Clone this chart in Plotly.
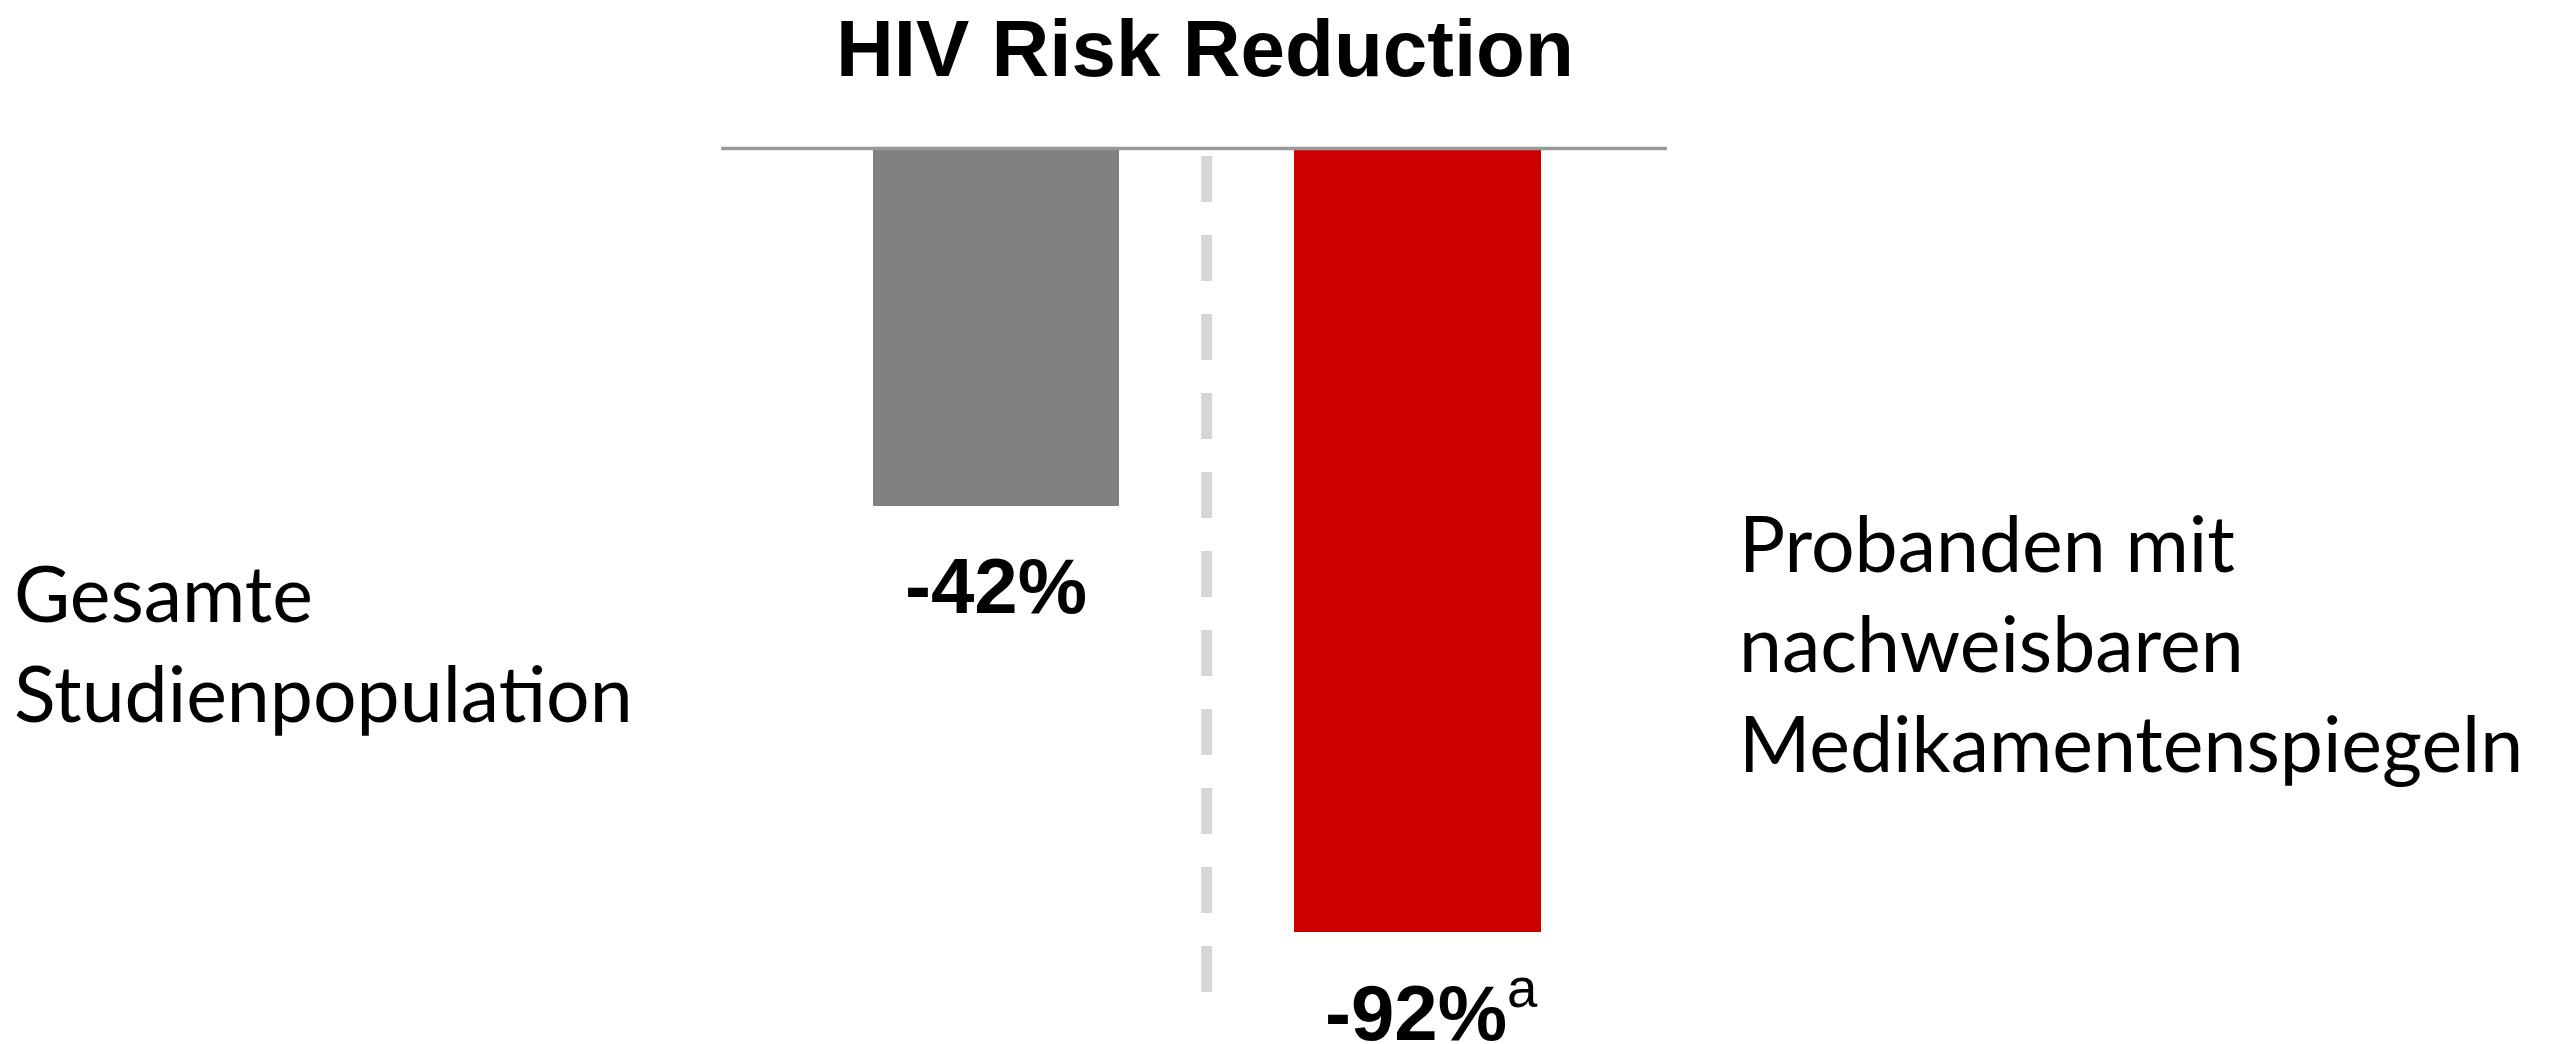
import plotly.graph_objects as go

# Study groups (each label split into its display lines)
group_lines = [
    ["Gesamte", "Studienpopulation"],
    ["Probanden mit", "nachweisbaren", "Medikamentenspiegeln"],
]
categories = [" ".join(lines) for lines in group_lines]

# Relative HIV risk change, in percent
risk_change = [-42, -92]
value_labels = ["-42%", "-92%"]
footnote_marks = ["", "a"]

bar_colors = ["#808080", "#cc0000"]

title_text = "HIV Risk Reduction"

BOLD_FONT = "Liberation Sans, Arial, Helvetica, sans-serif"
BODY_FONT = "Lato, Calibri, Carlito, sans-serif"

fig = go.Figure()

fig.add_trace(
    go.Bar(
        x=categories,
        y=risk_change,
        width=0.585,
        marker=dict(color=bar_colors, line=dict(width=0)),
        hoverinfo="skip",
        showlegend=False,
    )
)

# Value labels below each bar end
for cat, val, lab, mark in zip(categories, risk_change, value_labels, footnote_marks):
    text = lab
    xshift, yshift = 0, -34
    if mark:
        # the superscript raises the text box, so lift it back and keep the
        # main figure centred under the bar
        text += f"<sup><span style='font-weight:normal'>{mark}</span></sup>"
        xshift, yshift = 14, -24
    fig.add_annotation(
        x=cat,
        y=val,
        xref="x",
        yref="y",
        text=text,
        showarrow=False,
        xanchor="center",
        yanchor="top",
        xshift=xshift,
        yshift=yshift,
        font=dict(family=BOLD_FONT, size=78, color="#000000", weight="bold"),
    )

# Group descriptions on the left and right sides
side_x = [0.0045, 0.6765]
for lines, sx in zip(group_lines, side_x):
    fig.add_annotation(
        x=sx,
        y=0.385,
        xref="paper",
        yref="paper",
        text="<br>".join(lines),
        showarrow=False,
        xanchor="left",
        yanchor="middle",
        align="left",
        font=dict(family=BODY_FONT, size=77, color="#000000"),
    )

# Zero baseline
fig.add_shape(
    type="line",
    xref="x",
    yref="y",
    x0=-0.652,
    x1=1.592,
    y0=0,
    y1=0,
    line=dict(color="#999999", width=3.5),
    layer="above",
)

# Dashed divider between the two groups
fig.add_shape(
    type="line",
    xref="x",
    yref="paper",
    x0=0.5,
    x1=0.5,
    y0=1 - 156 / 1044,
    y1=1 - 994 / 1044,
    line=dict(color="#d6d6d6", width=11, dash="46px,33px"),
    layer="below",
)

fig.update_layout(
    width=2568,
    height=1044,
    margin=dict(l=0, r=0, t=0, b=0),
    paper_bgcolor="#ffffff",
    plot_bgcolor="#ffffff",
    title=dict(
        text=title_text,
        x=0.4692,
        xref="paper",
        xanchor="center",
        y=1 - 48 / 1044,
        yref="container",
        yanchor="middle",
        font=dict(family=BOLD_FONT, size=80, color="#000000", weight="bold"),
    ),
    xaxis=dict(
        type="category",
        range=[-2.363, 3.730],
        showticklabels=False,
        showgrid=False,
        zeroline=False,
        showline=False,
        ticks="",
        fixedrange=True,
    ),
    yaxis=dict(
        range=[-105.17, 17.44],
        showticklabels=False,
        showgrid=False,
        zeroline=False,
        showline=False,
        ticks="",
        fixedrange=True,
    ),
    bargap=0,
)

fig.write_html("out.html")
